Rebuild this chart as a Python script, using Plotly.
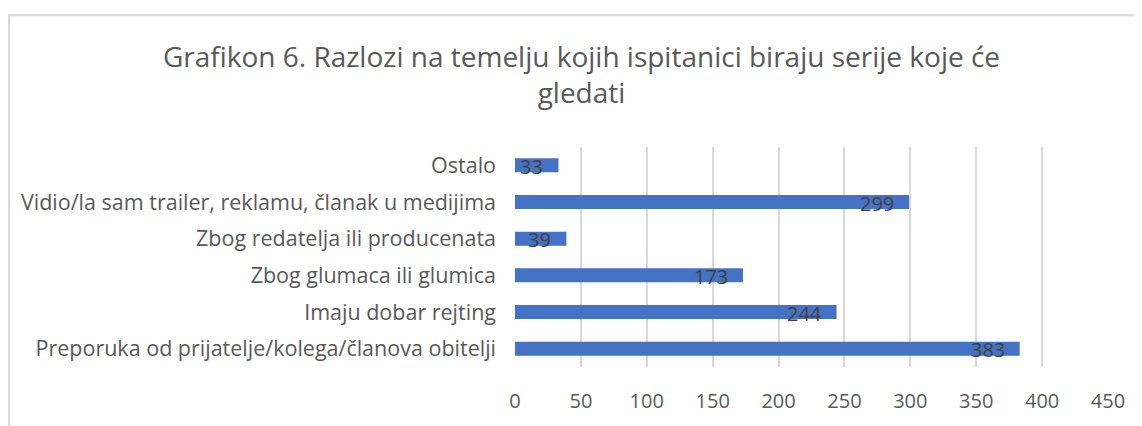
import plotly.graph_objects as go

categories = [
    "Preporuka od prijatelje/kolega/članova obitelji",
    "Imaju dobar rejting",
    "Zbog glumaca ili glumica",
    "Zbog redatelja ili producenata",
    "Vidio/la sam trailer, reklamu, članak u medijima",
    "Ostalo",
]
values = [383, 244, 173, 39, 299, 33]
x_ticks = [0, 50, 100, 150, 200, 250, 300, 350, 400, 450]

OFF = 8  # page body margin
W, H = 1142 - OFF, 426 - OFF
# plot-area edges in screenshot pixels
L, R, T, B = 515 - OFF, 1108 - OFF, 147 - OFF, 369 - OFF

def px_x(p):
    return (p - OFF - L) / (R - L)

def px_y(p):
    return (B - (p - OFF)) / (B - T)

FONT = "Open Sans"
GREY = "#595959"

fig = go.Figure()
fig.add_trace(go.Bar(
    x=values, y=categories, orientation="h",
    marker=dict(color="#4472C4", line=dict(width=0)),
    width=0.38, hoverinfo="skip",
))

annotations = [
    dict(x=v, y=c, xref="x", yref="y", text=str(v), showarrow=False,
         xanchor="right", yanchor="middle", xshift=-13, yshift=-1,
         font=dict(family=FONT, size=20, color="#404040"))
    for c, v in zip(categories, values)
]

fig.update_layout(
    width=W, height=H,
    margin=dict(l=L, r=W - R, t=T, b=H - B),
    paper_bgcolor="white", plot_bgcolor="white",
    showlegend=False,
    title=dict(
        text="Grafikon 6. Razlozi na temelju kojih ispitanici biraju serije koje će<br>gledati",
        x=px_x(581.5), xref="paper", xanchor="center",
        y=1 - 59 / H, yref="container", yanchor="top",
        font=dict(family=FONT, size=28, color=GREY),
    ),
    xaxis=dict(
        range=[0, 450], tickvals=x_ticks, showgrid=True,
        gridcolor="#d9d9d9", gridwidth=1.5, zeroline=False,
        showline=False, ticks="", ticklabelstandoff=20,
        tickfont=dict(family=FONT, size=20, color=GREY),
    ),
    yaxis=dict(
        showgrid=False, zeroline=False, showline=False, ticks="",
        ticklabelstandoff=18,
        tickfont=dict(family=FONT, size=21.5, color=GREY),
    ),
    annotations=annotations,
    shapes=[
        dict(type="line", xref="paper", yref="paper",
             x0=px_x(8), x1=px_x(1142 + 20), y0=px_y(14), y1=px_y(14),
             line=dict(color="#d9d9d9", width=2)),
        dict(type="line", xref="paper", yref="paper",
             x0=px_x(9), x1=px_x(9), y0=px_y(14), y1=px_y(426 + 20),
             line=dict(color="#d9d9d9", width=2)),
    ],
)

fig.write_html("out.html")
